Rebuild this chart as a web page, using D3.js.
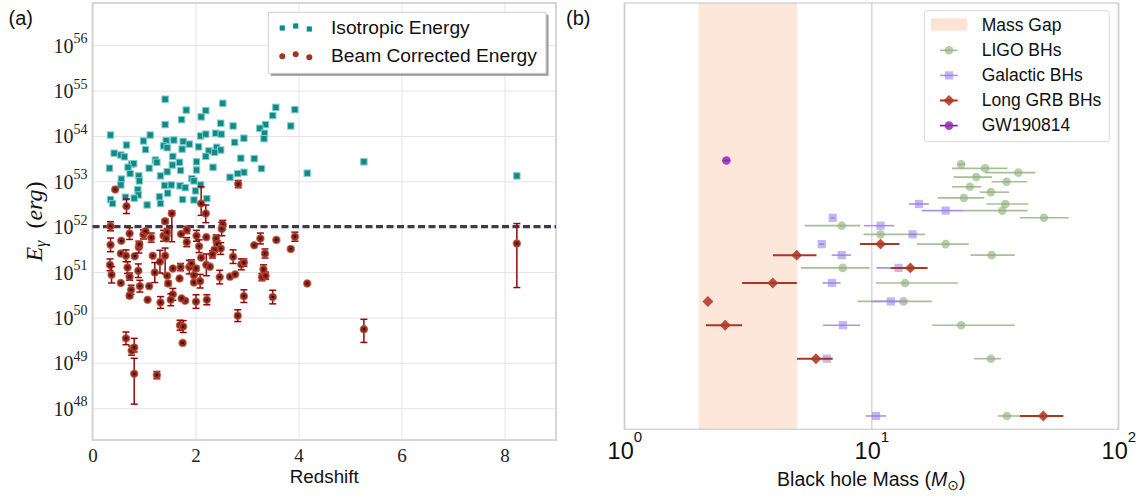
<!DOCTYPE html>
<html>
<head>
<meta charset="utf-8">
<script src="https://cdn.jsdelivr.net/npm/d3@7"></script>
<style>
	body { margin: 0; background: #fff; }
	svg { display: block; font-family: 'Liberation Sans', Arial, sans-serif; }
</style>
</head>
<body>
<div class="content"></div>
<script>
const w = 1145;
const h = 498;

// ---- panel (a): redshift vs gamma-ray energy, energy stored as log10(erg)
const isoPoints = [
	[1.41, 54.81], [2.53, 54.72], [3.56, 54.63], [1.82, 54.57], [2.20, 54.56], [3.93, 54.58], [3.50, 54.45],
	[2.11, 54.42], [1.73, 54.36], [1.41, 54.25], [2.49, 54.28], [2.73, 54.22], [3.85, 54.22], [3.36, 54.25],
	[3.25, 54.17], [0.35, 54.02], [1.12, 54.02], [2.10, 54.00], [2.20, 54.04], [2.39, 54.06], [2.50, 54.04],
	[3.34, 54.06], [3.33, 53.94], [2.94, 53.95], [2.76, 53.86], [0.66, 53.80], [0.99, 53.89], [1.43, 53.90],
	[1.58, 53.91], [1.76, 53.88], [1.88, 53.82], [1.38, 53.78], [1.45, 53.74], [1.74, 53.71], [2.06, 53.76],
	[1.03, 53.70], [2.41, 53.75], [2.49, 53.69], [2.26, 53.67], [2.37, 53.64], [0.42, 53.62], [0.55, 53.58],
	[0.62, 53.54], [1.56, 53.55], [2.20, 53.55], [2.88, 53.51], [3.14, 53.50], [1.22, 53.47], [1.25, 53.42],
	[1.69, 53.42], [2.02, 53.43], [0.76, 53.38], [0.80, 53.39], [0.33, 53.29], [0.69, 53.31], [1.10, 53.29],
	[1.55, 53.36], [1.45, 53.21], [1.71, 53.24], [2.02, 53.25], [2.34, 53.31], [3.28, 53.28], [2.94, 53.20],
	[2.82, 53.17], [4.17, 53.18], [0.73, 53.17], [0.90, 53.12], [1.32, 53.12], [2.67, 53.09], [0.56, 53.05],
	[0.91, 53.01], [1.93, 53.06], [1.97, 53.01], [0.55, 52.92], [1.40, 52.91], [1.53, 52.92], [1.70, 52.90],
	[1.80, 52.86], [0.88, 52.82], [2.10, 52.92], [2.00, 52.79], [1.46, 52.74], [0.89, 52.70], [1.30, 52.66],
	[0.64, 52.65], [0.81, 52.63], [0.35, 52.60], [1.75, 52.60], [1.97, 52.59], [2.22, 52.62], [0.39, 52.51],
	[1.32, 52.51], [1.06, 52.48], [5.27, 53.43], [8.24, 53.12]
];

// [z, log10 E, +err dex, -err dex]
const beamPoints = [
	[0.44, 52.82, 0, 0], [0.66, 52.45, 0.16, 0.16], [2.11, 52.51, 0.37, 0.26], [2.20, 52.29, 0.19, 0.20],
	[1.54, 52.29, 0.06, 0.62], [2.83, 52.94, 0.08, 0.08], [1.41, 52.12, 0.05, 0.05], [0.35, 52.01, 0.10, 0.10],
	[2.53, 52.04, 0.10, 0.10], [8.24, 51.63, 0.44, 0.97], [3.14, 51.59, 0, 0], [3.26, 51.74, 0.12, 0.12],
	[3.57, 51.71, 0, 0], [3.93, 51.78, 0.10, 0.10], [3.85, 51.51, 0, 0], [3.35, 51.41, 0.10, 0.10],
	[3.32, 51.06, 0.10, 0.10], [3.29, 50.89, 0.08, 0.08], [3.36, 50.92, 0.08, 0.08], [4.17, 50.75, 0, 0],
	[3.50, 50.45, 0.15, 0.15], [5.27, 49.74, 0.22, 0.29], [0.72, 51.85, 0.13, 0.13], [0.99, 51.83, 0.10, 0.10],
	[1.03, 51.90, 0, 0], [1.14, 51.76, 0.10, 0.10], [0.56, 51.69, 0, 0], [0.35, 51.60, 0.15, 0.15],
	[1.38, 51.80, 0.12, 0.12], [1.45, 51.88, 0.08, 0.08], [1.43, 51.74, 0, 0], [1.72, 51.84, 0, 0],
	[1.83, 51.93, 0.08, 0.08], [1.83, 51.66, 0.10, 0.10], [2.02, 51.80, 0.12, 0.12], [2.07, 51.57, 0.14, 0.14],
	[2.21, 51.77, 0, 0], [2.40, 51.74, 0.08, 0.08], [2.42, 51.61, 0.08, 0.08], [2.49, 51.52, 0.13, 0.13],
	[2.51, 51.95, 0.15, 0.15], [2.37, 51.49, 0.05, 0.05], [2.33, 51.39, 0.08, 0.08], [0.55, 51.41, 0, 0],
	[0.65, 51.36, 0.13, 0.13], [0.82, 51.35, 0, 0], [0.90, 51.55, 0.13, 0.13], [0.91, 51.61, 0.05, 0.05],
	[0.34, 51.16, 0.13, 0.13], [0.68, 51.10, 0.13, 0.13], [0.37, 50.94, 0.18, 0.18], [0.55, 50.76, 0, 0],
	[0.72, 50.90, 0.08, 0.08], [0.89, 51.03, 0.15, 0.15], [0.75, 50.61, 0.10, 0.10], [0.72, 50.48, 0.05, 0.05],
	[0.92, 50.69, 0.13, 0.13], [1.10, 50.69, 0, 0], [1.07, 50.39, 0, 0], [1.17, 51.36, 0, 0],
	[1.31, 51.23, 0.25, 0.25], [1.21, 50.99, 0.22, 0.22], [1.41, 51.36, 0.17, 0.40], [1.45, 50.92, 0, 0],
	[1.47, 50.75, 0.05, 0.05], [1.56, 51.08, 0, 0], [1.69, 50.86, 0, 0], [1.71, 51.11, 0.08, 0.08],
	[1.88, 51.11, 0.15, 0.15], [1.92, 51.19, 0.08, 0.08], [1.97, 50.93, 0.15, 0.15], [2.01, 51.08, 0.05, 0.05],
	[1.97, 50.77, 0, 0], [2.09, 50.80, 0.15, 0.15], [2.11, 51.32, 0, 0], [2.21, 51.16, 0.24, 0.24],
	[2.28, 51.12, 0, 0], [2.47, 50.89, 0.15, 0.15], [2.67, 50.90, 0, 0], [2.77, 50.95, 0, 0],
	[2.73, 51.34, 0.15, 0.15], [2.89, 51.17, 0.12, 0.12], [2.94, 51.21, 0.08, 0.08], [2.94, 50.47, 0.14, 0.14],
	[2.82, 50.04, 0.13, 0.13], [2.22, 50.39, 0.11, 0.11], [2.01, 50.35, 0.15, 0.15], [1.80, 50.37, 0, 0],
	[1.73, 50.42, 0, 0], [1.56, 50.51, 0.13, 0.13], [1.52, 50.39, 0.13, 0.13], [1.32, 50.33, 0.13, 0.13],
	[1.70, 49.83, 0.11, 0.11], [1.76, 49.80, 0.13, 0.13], [1.75, 49.44, 0, 0], [0.65, 49.54, 0.14, 0.14],
	[0.76, 49.27, 0.10, 0.10], [0.81, 49.34, 0.20, 0.10], [0.81, 48.76, 0.34, 0.67], [1.25, 48.73, 0.08, 0.08]
];

const thresholdLogE = 52;
const redshiftTicks = [0, 2, 4, 6, 8];
const energyExps = [48, 49, 50, 51, 52, 53, 54, 55, 56];

// ---- panel (b): black hole masses, [mass, low, high], row = position in list + 1
const ligoBHs = [
	[35.4, 32.5, 40], [30.5, 26.1, 33.5], [23.1, 17.6, 38.1], [13.5, 8.8, 17.6], [13.7, 10.45, 22.4],
	[7.66, 5.19, 9.85], [30.7, 25.2, 38.1], [20.0, 15.3, 24.8], [10.9, 9.3, 16.5], [7.59, 5.37, 9.0],
	[50.0, 40, 63], [33.9, 23.9, 42.9], [34.9, 29.2, 43.3], [23.7, 18.6, 28.7], [30.5, 27.5, 36.1],
	[25.1, 21.2, 27.9], [35.3, 30.7, 42.8], [26.6, 21.5, 30.8], [39.4, 28.9, 46.1], [28.9, 21.2, 35.6],
	[23.1, 22.3, 23.9]
];
const galacticBHs = [
	[10.45, 9.5, 11.5], [6.6, 6.45, 6.9], [7.68, 6.38, 9.0], [12.0, 10.0, 14.0], [6.93, 6.35, 7.51],
	[12.9, 10.5, 15.4], [7.59, 6.91, 8.28], [6.30, 6.15, 6.45], [14.7, 14.3, 15.1], [10.9, 9.34, 12.4],
	[6.98, 6.85, 7.1], [20.0, 16.0, 23.9], [15.6, 14.2, 17.1]
];
const grbBHs = [
	[49.7, 40, 59.9], [5.97, 5.0, 6.98], [2.56, 2.14, 3.0], [2.18, 2.18, 2.18], [3.99, 3.0, 5.0],
	[14.4, 12.0, 16.9], [4.99, 4.0, 6.0], [10.9, 9.0, 13.0]
];
const gw190814 = [[2.59, 2.5, 2.67]];
const gw190814Row = 22;
const massGap = [2, 5];
const massExps = [0, 1, 2];

const content = d3.select('.content');
const svg = content.append('svg')
	.attr('width', w)
	.attr('height', h);

const serif = "'Liberation Serif', 'DejaVu Serif', serif";

// =================== panel (a) ===================
const ax = { l: 92.5, r: 556, t: 3, b: 440 };

const xA = d3.scaleLinear()
	.domain([0, 9])
	.range([ax.l, ax.r]);

const yA = d3.scaleLog()
	.domain([Math.pow(10, 47.3), Math.pow(10, 56.93)])
	.range([ax.b, ax.t]);

const pa = svg.append('g');

const xAxisA = d3.axisBottom(xA)
	.tickValues(redshiftTicks)
	.tickSize(-(ax.b - ax.t))
	.tickPadding(9)
	.tickFormat(d3.format('d'));

pa.append('g')
	.attr('transform', 'translate(0,' + ax.b + ')')
	.call(xAxisA)
	.call(g => g.select('.domain').remove())
	.call(g => g.selectAll('.tick line').attr('stroke', '#e4e4e4').attr('stroke-width', 1))
	.call(g => g.selectAll('.tick text')
		.attr('fill', '#222')
		.style('font-family', serif)
		.style('font-size', '19px'));

const yAxisA = d3.axisLeft(yA)
	.tickValues(energyExps.map(e => Math.pow(10, e)))
	.tickSize(-(ax.r - ax.l))
	.tickFormat('');

pa.append('g')
	.attr('transform', 'translate(' + ax.l + ',0)')
	.call(yAxisA)
	.call(g => g.select('.domain').remove())
	.call(g => g.selectAll('.tick line').attr('stroke', '#e4e4e4').attr('stroke-width', 1))
	.call(g => g.selectAll('.tick').each(function (d) {
		const t = d3.select(this).append('text')
			.attr('x', -5)
			.attr('y', 7)
			.attr('text-anchor', 'end')
			.attr('fill', '#222')
			.style('font-family', serif)
			.style('font-size', '20px');
		t.append('tspan').text('10');
		t.append('tspan')
			.attr('dy', -9.5)
			.style('font-size', '14px')
			.text(Math.round(Math.log10(d)));
	}));

pa.append('rect')
	.attr('x', ax.l)
	.attr('y', ax.t)
	.attr('width', ax.r - ax.l)
	.attr('height', ax.b - ax.t)
	.attr('fill', 'none')
	.attr('stroke', '#d6d6d6')
	.attr('stroke-width', 2);

// isotropic energies
pa.append('g')
	.selectAll('rect')
	.data(isoPoints)
	.enter()
	.append('rect')
	.attr('x', d => xA(d[0]) - 3.2)
	.attr('y', d => yA(Math.pow(10, d[1])) - 3.2)
	.attr('width', 6.4)
	.attr('height', 6.4)
	.attr('fill', '#0c8b8b')
	.attr('stroke', '#86c9c9')
	.attr('stroke-width', 1);

// threshold line
pa.append('line')
	.attr('x1', ax.l)
	.attr('x2', ax.r)
	.attr('y1', yA(Math.pow(10, thresholdLogE)))
	.attr('y2', yA(Math.pow(10, thresholdLogE)))
	.attr('stroke', '#3c3c4e')
	.attr('stroke-width', 3.2)
	.attr('stroke-dasharray', '7,3.5');

// beam corrected energies with error bars
const beam = pa.append('g')
	.selectAll('g')
	.data(beamPoints)
	.enter()
	.append('g');

const errBar = beam.filter(d => d[2] > 0 || d[3] > 0);

errBar.append('line')
	.attr('x1', d => xA(d[0]))
	.attr('x2', d => xA(d[0]))
	.attr('y1', d => yA(Math.pow(10, d[1] + d[2])))
	.attr('y2', d => yA(Math.pow(10, d[1] - d[3])))
	.attr('stroke', '#8e0a0a')
	.attr('stroke-width', 1.5);

[1, -1].forEach(sign => {
	errBar.append('line')
		.attr('x1', d => xA(d[0]) - 3.5)
		.attr('x2', d => xA(d[0]) + 3.5)
		.attr('y1', d => yA(Math.pow(10, d[1] + (sign > 0 ? d[2] : -d[3]))))
		.attr('y2', d => yA(Math.pow(10, d[1] + (sign > 0 ? d[2] : -d[3]))))
		.attr('stroke', '#8e0a0a')
		.attr('stroke-width', 1.5);
});

beam.append('circle')
	.attr('cx', d => xA(d[0]))
	.attr('cy', d => yA(Math.pow(10, d[1])))
	.attr('r', 3.7)
	.attr('fill', '#952716')
	.attr('stroke', 'rgba(190,95,80,0.7)')
	.attr('stroke-width', 1.2);

beam.append('circle')
	.attr('cx', d => xA(d[0]))
	.attr('cy', d => yA(Math.pow(10, d[1])))
	.attr('r', 1.1)
	.attr('fill', '#000');

// legend (a)
const legA = pa.append('g');
legA.append('rect')
	.attr('x', 270.8).attr('y', 14.8)
	.attr('width', 277.7).attr('height', 61)
	.attr('fill', '#9a9a9a');
legA.append('rect')
	.attr('x', 268.3).attr('y', 12.3)
	.attr('width', 277.7).attr('height', 61)
	.attr('fill', '#fff')
	.attr('stroke', '#cfcfcf');

const legendOffsets = [[282.3, 1], [295.7, -1], [309.3, 2]];
legA.selectAll('.lsq')
	.data(legendOffsets)
	.enter()
	.append('rect')
	.attr('x', d => d[0] - 2.6)
	.attr('y', d => 27 + d[1] - 2.6)
	.attr('width', 5.2)
	.attr('height', 5.2)
	.attr('fill', '#0c8b8b');
legA.selectAll('.lci')
	.data(legendOffsets)
	.enter()
	.append('circle')
	.attr('cx', d => d[0])
	.attr('cy', d => 55.3 + d[1])
	.attr('r', 3)
	.attr('fill', '#a3361f');
legA.append('text')
	.attr('x', 331).attr('y', 33.5)
	.attr('fill', '#111')
	.style('font-size', '19.2px')
	.text('Isotropic Energy');
legA.append('text')
	.attr('x', 331).attr('y', 61.7)
	.attr('fill', '#111')
	.style('font-size', '19.2px')
	.text('Beam Corrected Energy');

// axis labels (a)
pa.append('text')
	.attr('x', (ax.l + ax.r) / 2)
	.attr('y', 483)
	.attr('text-anchor', 'middle')
	.attr('fill', '#111')
	.style('font-size', '18.8px')
	.text('Redshift');

const yLab = pa.append('text')
	.attr('transform', 'translate(42,' + ((ax.t + ax.b) / 2) + ') rotate(-90)')
	.attr('text-anchor', 'middle')
	.attr('fill', '#111')
	.style('font-family', serif)
	.style('font-size', '24px');
yLab.append('tspan').style('font-style', 'italic').text('E');
yLab.append('tspan').style('font-style', 'italic').style('font-size', '16px').attr('dy', 4).text('γ');
yLab.append('tspan').attr('dy', -4).text('\u2002(');
yLab.append('tspan').style('font-style', 'italic').text('erg');
yLab.append('tspan').text(')');

svg.append('text')
	.attr('x', 8.5).attr('y', 24.5)
	.attr('fill', '#111')
	.style('font-size', '20px')
	.text('(a)');

// =================== panel (b) ===================
const bx = { l: 624.3, r: 1118.3, t: 3, b: 429.3 };

const xB = d3.scaleLog()
	.domain([1, 100])
	.range([bx.l, bx.r]);

const yB = d3.scaleLog()
	.domain([Math.pow(10, -0.07), Math.pow(10, 2.17)])
	.range([bx.b, bx.t]);

const pb = svg.append('g');

pb.append('rect')
	.attr('x', xB(massGap[0]))
	.attr('y', bx.t)
	.attr('width', xB(massGap[1]) - xB(massGap[0]))
	.attr('height', bx.b - bx.t)
	.attr('fill', '#fde6da');

const xAxisB = d3.axisBottom(xB)
	.tickValues(massExps.map(e => Math.pow(10, e)))
	.tickSize(-(bx.b - bx.t))
	.tickFormat('');

pb.append('g')
	.attr('transform', 'translate(0,' + bx.b + ')')
	.call(xAxisB)
	.call(g => g.select('.domain').remove())
	.call(g => g.selectAll('.tick line').attr('stroke', '#d2d2d2').attr('stroke-width', 1.3))
	.call(g => g.selectAll('.tick').each(function (d) {
		const t = d3.select(this).append('text')
			.attr('y', 30)
			.attr('text-anchor', 'middle')
			.attr('fill', '#111')
			.style('font-size', '23.5px');
		t.append('tspan').text('10');
		t.append('tspan')
			.attr('dy', -17)
			.style('font-size', '15px')
			.text(Math.round(Math.log10(d)));
	}));

pb.append('rect')
	.attr('x', bx.l)
	.attr('y', bx.t)
	.attr('width', bx.r - bx.l)
	.attr('height', bx.b - bx.t)
	.attr('fill', 'none')
	.attr('stroke', '#cfcfcf')
	.attr('stroke-width', 1.3);

const series = [
	{ data: ligoBHs, line: '#a5c095', fill: 'rgba(140,176,118,0.62)', shape: 'circle', lw: 1.6 },
	{ data: galacticBHs, line: '#a694e6', fill: 'rgba(148,122,230,0.55)', shape: 'square', lw: 1.6 },
	{ data: grbBHs, line: '#ad3520', fill: 'rgba(175,55,35,0.88)', shape: 'diamond', lw: 2 },
	{ data: gw190814, line: '#6e1f8c', fill: 'rgba(150,40,185,0.85)', shape: 'circle', lw: 1.6, row: gw190814Row }
];

const symbolPath = {
	circle: d3.symbol().type(d3.symbolCircle).size(Math.PI * 4.3 * 4.3)(),
	square: d3.symbol().type(d3.symbolSquare).size(68)(),
	diamond: d3.symbol().type(d3.symbolSquare).size(60)()
};

series.forEach(s => {
	// each point sits on the row given by its place in the list
	const rows = s.data.map((d, i) => ({ m: d[0], lo: d[1], hi: d[2], row: s.row || i + 1 }));
	const g = pb.append('g')
		.selectAll('g')
		.data(rows)
		.enter()
		.append('g');
	g.filter(d => d.hi > d.lo)
		.append('line')
		.attr('x1', d => xB(d.lo))
		.attr('x2', d => xB(d.hi))
		.attr('y1', d => yB(d.row))
		.attr('y2', d => yB(d.row))
		.attr('stroke', s.line)
		.attr('stroke-width', s.lw);
	g.append('path')
		.attr('d', symbolPath[s.shape])
		.attr('transform', d => 'translate(' + xB(d.m) + ',' + yB(d.row) + ')' + (s.shape === 'diamond' ? ' rotate(45)' : ''))
		.attr('fill', s.fill);
});

// legend (b)
const legB = pb.append('g');
legB.append('rect')
	.attr('x', 924.3).attr('y', 10.7)
	.attr('width', 185).attr('height', 131)
	.attr('rx', 3)
	.attr('fill', 'rgba(255,255,255,0.85)')
	.attr('stroke', '#d9d9d9');

const legendNames = ['Mass Gap', 'LIGO BHs', 'Galactic BHs', 'Long GRB BHs', 'GW190814'];
legendNames.forEach((name, i) => {
	const y = 30.7 + i * 25.1;
	if (i === 0) {
		legB.append('rect')
			.attr('x', 931).attr('y', 18.3)
			.attr('width', 36.3).attr('height', 12.4)
			.attr('fill', '#fde3d4');
	} else {
		const s = series[i - 1];
		legB.append('line')
			.attr('x1', 940).attr('x2', 957.7)
			.attr('y1', y - 5.5).attr('y2', y - 5.5)
			.attr('stroke', s.line)
			.attr('stroke-width', s.lw);
		legB.append('path')
			.attr('d', symbolPath[s.shape])
			.attr('transform', 'translate(949,' + (y - 5.5) + ')' + (s.shape === 'diamond' ? ' rotate(45)' : ''))
			.attr('fill', s.fill);
	}
	legB.append('text')
		.attr('x', 981.7).attr('y', y)
		.attr('fill', '#111')
		.style('font-size', '17.5px')
		.text(name);
});

const xLabB = pb.append('text')
	.attr('x', (bx.l + bx.r) / 2)
	.attr('y', 485.5)
	.attr('text-anchor', 'middle')
	.attr('fill', '#111')
	.style('font-size', '19.5px');
xLabB.append('tspan').text('Black hole Mass (');
xLabB.append('tspan').style('font-style', 'italic').text('M');
xLabB.append('tspan').attr('dy', 4).style('font-size', '14px').style('font-family', 'DejaVu Sans').text('\u2299');
xLabB.append('tspan').attr('dy', -4).text(')');

svg.append('text')
	.attr('x', 566).attr('y', 24.5)
	.attr('fill', '#111')
	.style('font-size', '20px')
	.text('(b)');
</script>
</body>
</html>
